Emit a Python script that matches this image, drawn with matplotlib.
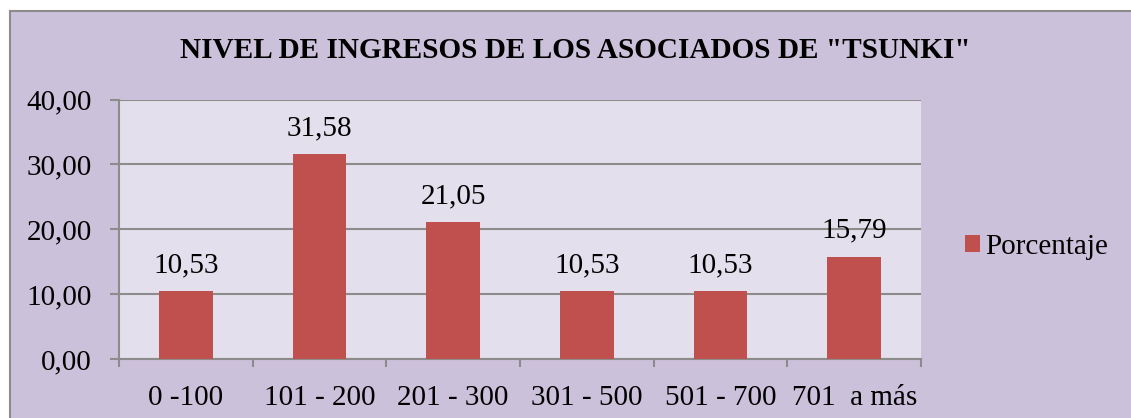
import matplotlib
matplotlib.use("Agg")
import matplotlib.pyplot as plt
from matplotlib.patches import Rectangle, Patch

categories = ["0 -100", "101 - 200", "201 - 300", "301 - 500", "501 - 700", "701  a más"]
values = [10.53, 31.58, 21.05, 10.53, 10.53, 15.79]
value_labels = ["10,53", "31,58", "21,05", "10,53", "10,53", "15,79"]
yticks = [0, 10, 20, 30, 40]
ytick_labels = ["0,00", "10,00", "20,00", "30,00", "40,00"]
title = 'NIVEL DE INGRESOS DE LOS ASOCIADOS DE "TSUNKI"'
series_name = "Porcentaje"

W, H = 1131, 418
FS = 21
plt.rcParams['font.family'] = ['Liberation Serif', 'DejaVu Serif']
fig = plt.figure(figsize=(W/100, H/100), dpi=100)
fig.patch.set_facecolor("white")

# outer chart area
fig.patches.append(Rectangle((10/W, -0.1), 1.2, (H-11)/H + 0.1, transform=fig.transFigure,
                             facecolor="#CCC1DA", edgecolor="#8C8C8C", linewidth=1.5, zorder=-5))

left, right, top, bottom = 119, 921, 99.5, 359
ax = fig.add_axes([left/W, (H-bottom)/H, (right-left)/W, (bottom-top)/H])
ax.set_facecolor("#E4DFEC")

x = list(range(len(categories)))
bars = ax.bar(x, values, width=0.4, color="#C0504D", zorder=3, label=series_name)
for xi, v, lab in zip(x, values, value_labels):
    ax.annotate(lab, (xi, v), xytext=(0, 18.5), textcoords="offset points",
                ha="center", va="center", fontsize=FS, color="black", zorder=4)

ax.set_xlim(-0.5, len(categories) - 0.5)
ax.set_ylim(0, 40)
ax.set_yticks(yticks)
ax.set_yticklabels(ytick_labels)
ax.yaxis.grid(True, color="#8C8C8C", linewidth=1.5, zorder=1)
ax.set_axisbelow(True)

ax.set_xticks(x)
ax.set_xticklabels(categories)
ax.set_xticks([i - 0.5 for i in range(len(categories) + 1)], minor=True)
ax.tick_params(axis="x", which="major", length=0, pad=18.5, labelsize=FS)
ax.tick_params(axis="x", which="minor", length=6, width=1.5, color="#8C8C8C", direction="out")
ax.tick_params(axis="y", length=6.5, width=1.5, color="#8C8C8C", pad=13, labelsize=FS)

for s in ["top", "right"]:
    ax.spines[s].set_visible(False)
for s in ["left", "bottom"]:
    ax.spines[s].set_color("#8C8C8C")
    ax.spines[s].set_linewidth(1.5)

fig.text(575/W, 1 - 50/H, title, ha="center", va="center", fontsize=21.1, fontweight="bold")

fig.legend(handles=[Patch(facecolor="#C0504D", label=series_name)], loc="center left",
           bbox_to_anchor=(953/W, 1 - 247/H), frameon=False, fontsize=FS,
           handlelength=0.52, handleheight=0.52, handletextpad=0.2, borderaxespad=0)

fig.savefig("out.png", dpi=100)
